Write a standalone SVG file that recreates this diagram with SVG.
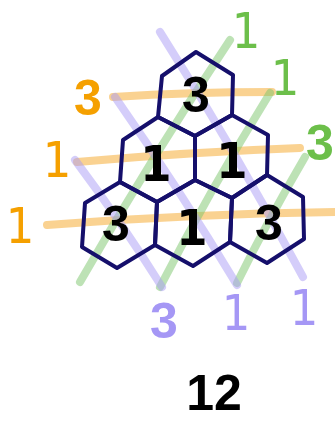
<svg xmlns="http://www.w3.org/2000/svg" width="335" height="421" viewBox="0 0 335 421">
<style>
.ln{fill:none;stroke-width:8;stroke-linecap:round;opacity:0.5}
.o{stroke:#f5a623}.g{stroke:#7bc56b}.p{stroke:#a99cf5}
.hex{fill:none;stroke:#150f6b;stroke-width:4;stroke-linejoin:round}
.d{font-family:"Liberation Sans",Arial,sans-serif;font-weight:bold;font-size:50px;text-anchor:middle;fill:#000}
.one{font-family:"DejaVu Sans Condensed","DejaVu Sans",sans-serif}
.lab{font-weight:normal}
.lo{fill:#f5a000}.lg{fill:#6cbf4a}.lp{fill:#a597f5}
</style>
<rect width="335" height="421" fill="#fff"/>
<g id="connectors">
<path class="ln o" d="M113,97 Q190,92 272,92"/>
<path class="ln o" d="M77,162 Q190,152 300,148"/>
<path class="ln o" d="M47,225 Q190,214 340,212"/>
<path class="ln g" d="M230,40 Q150,160 80,282"/>
<path class="ln g" d="M270,93 Q210,190 160,287"/>
<path class="ln g" d="M305,157 Q268,220 237,283"/>
<path class="ln p" d="M160,32 Q235,150 303,277"/>
<path class="ln p" d="M115,97 Q180,190 237,285"/>
<path class="ln p" d="M75,160 Q120,220 162,287"/>
</g>
<g id="hex-top"><polygon class="hex" points="196,52 233,75 232,115 195,136 158,117 162,76"/><text class="d" x="196" y="112">3</text></g>
<g id="hex-mid-left"><polygon class="hex" points="158,117 195,136 195,180 157,202 120,182 123,140"/><text class="d one" x="156" y="181" font-size="48">1</text></g>
<g id="hex-mid-right"><polygon class="hex" points="232,115 268,135 267,175 232,198 195,180 195,136"/><text class="d one" x="232" y="178" font-size="48">1</text></g>
<g id="hex-bot-left"><polygon class="hex" points="120,182 157,202 155,245 117,268 82,247 85,203"/><text class="d" x="116" y="241">3</text></g>
<g id="hex-bot-mid"><polygon class="hex" points="195,180 232,198 230,242 193,266 155,245 157,202"/><text class="d one" x="192" y="245" font-size="50">1</text></g>
<g id="hex-bot-right"><polygon class="hex" points="267,175 303,197 304,239 267,263 230,242 232,198"/><text class="d" x="269" y="240">3</text></g>
<g id="labels">
<text class="d lo" x="88" y="115" font-size="52">3</text>
<text class="d one lab lo" x="57" y="177" font-size="46">1</text>
<text class="d one lab lo" x="20" y="243" font-size="50">1</text>
<text class="d one lab lg" x="246" y="48" font-size="48">1</text>
<text class="d one lab lg" x="285" y="95" font-size="44">1</text>
<text class="d lg" x="320" y="160" font-size="44">3</text>
<text class="d lp" x="164" y="338">3</text>
<text class="d one lab lp" x="236" y="330" font-size="44">1</text>
<text class="d one lab lp" x="304" y="325" font-size="44">1</text>
<text class="d" x="214" y="410" font-size="50">12</text>
</g>
</svg>
